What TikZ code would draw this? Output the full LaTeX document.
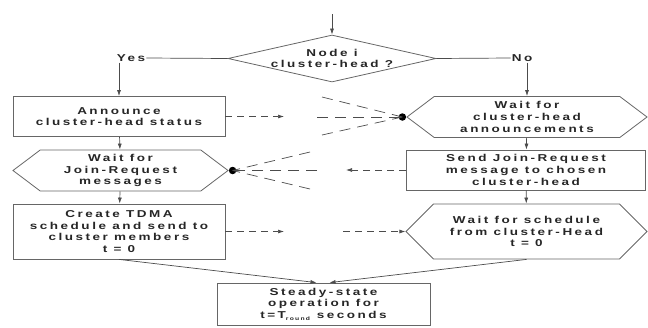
\documentclass[tikz,border=0pt]{standalone}
\usepackage{fontspec}
\setmainfont{Liberation Sans}[LetterSpace=25, FakeStretch=1.35]
\usetikzlibrary{arrows.meta,shapes.geometric,shapes.symbols}
\tikzset{
  txt/.style={font=\bfseries\fontsize{10}{11.7}\selectfont, align=center, text=black!85},
  box/.style={txt, draw=black!60, line width=.8pt, rectangle, inner sep=0pt},
  hexa/.style={txt, draw=black!60, line width=.8pt, shape=signal, signal to=west and east, signal from=nowhere, inner sep=0pt},
  decide/.style={txt, draw=black!60, line width=.8pt, shape=diamond, aspect=4.4, inner sep=0pt},
  blob/.style={circle, fill=black, inner sep=0pt, minimum size=7.5pt},
  flow/.style={draw=black!70, line width=.7pt},
  dasharr/.style={flow, dash pattern=on 7pt off 5pt},
  fan/.style={flow, dash pattern=on 11pt off 7pt}
}
\begin{document}
\begin{tikzpicture}[x=1pt, y=-1pt, >={Latex[length=6pt,width=4pt]}]
\useasboundingbox (0,0) rectangle (648,327);
% decision
\coordinate (top) at (332,14);
\node [decide, minimum width=208pt, minimum height=47pt] (dec) at (332,58.5) {Node i\\cluster-head ?};
\node [txt, inner sep=1pt] (yes) at (131,58) {Yes};
\node [txt, inner sep=1pt] (no) at (522,58) {No};
% left column
\node [box, minimum width=212pt, minimum height=40pt] (ann) at (119,116.5) {Announce\\cluster-head status};
\node [hexa, minimum width=215pt, minimum height=41pt, signal pointer angle=74] (waitjoin) at (120.5,170.5) {Wait for\\Join-Request\\messages};
\node [box, minimum width=212pt, minimum height=55pt] (tdma) at (119,231.5) {Create TDMA\\schedule and send to\\cluster members\\t = 0};
% right column
\node [hexa, minimum width=240pt, minimum height=41pt, signal pointer angle=74] (waitann) at (527,117) {Wait for\\cluster-head\\announcements};
\node [box, minimum width=239pt, minimum height=40pt] (send) at (526,170) {Send Join-Request\\message to chosen\\cluster-head};
\node [hexa, minimum width=241pt, minimum height=55pt, signal pointer angle=90] (waitsch) at (526.5,231.5) {Wait for schedule\\from cluster-Head\\t = 0};
% bottom
\node [box, minimum width=213pt, minimum height=42pt] (steady) at (323.5,304) {Steady-state\\operation for\\t=T\textsubscript{\fontsize{5}{5}\selectfont round} seconds};
% solid flow
\draw [flow, ->] (top) -- (dec.north);
\draw [flow] (dec.west) -- (yes.east);
\draw [flow] (dec.east) -- (no.west);
\draw [flow, ->] (yes.south -| ann.north) -- (ann.north);
\draw [flow, ->] (no.south -| waitann.north) -- (waitann.north);
\draw [flow, ->] (ann) -- (waitjoin);
\draw [flow, ->] (waitjoin) -- (tdma);
\draw [flow, ->] (waitann) -- (send);
\draw [flow, ->] (send) -- (waitsch);
\draw [flow, ->] (tdma.south) -- ([xshift=-7pt]steady.north);
\draw [flow, ->] (waitsch.south) -- ([xshift=6pt]steady.north);
% messages between the columns
\node [blob, anchor=east] (dotA) at (waitann.west) {};
\node [blob, anchor=west] (dotB) at (waitjoin.east) {};
\coordinate (annEnd) at (284,116.5);
\coordinate (sendEnd) at (346,170);
\coordinate (tdmaEnd) at (284,231.5);
\coordinate (schStart) at (343,231.5);
\coordinate (fa1) at (322,97);
\coordinate (fa2) at (317,117);
\coordinate (fa3) at (322,135);
\coordinate (fb1) at (310,152);
\coordinate (fb2) at (317,170.5);
\coordinate (fb3) at (310,189);
\draw [dasharr, ->] (ann.east) -- (annEnd);
\draw [dasharr, ->] (send.west) -- (sendEnd);
\draw [dasharr, ->] (tdma.east) -- (tdmaEnd);
\draw [dasharr, ->] (schStart) -- (waitsch.west);
\foreach \f in {fa1,fa2,fa3} \draw [fan] (\f) -- (dotA.center);
\foreach \f in {fb1,fb2,fb3} \draw [fan] (\f) -- (dotB.center);
\end{tikzpicture}
\end{document}
